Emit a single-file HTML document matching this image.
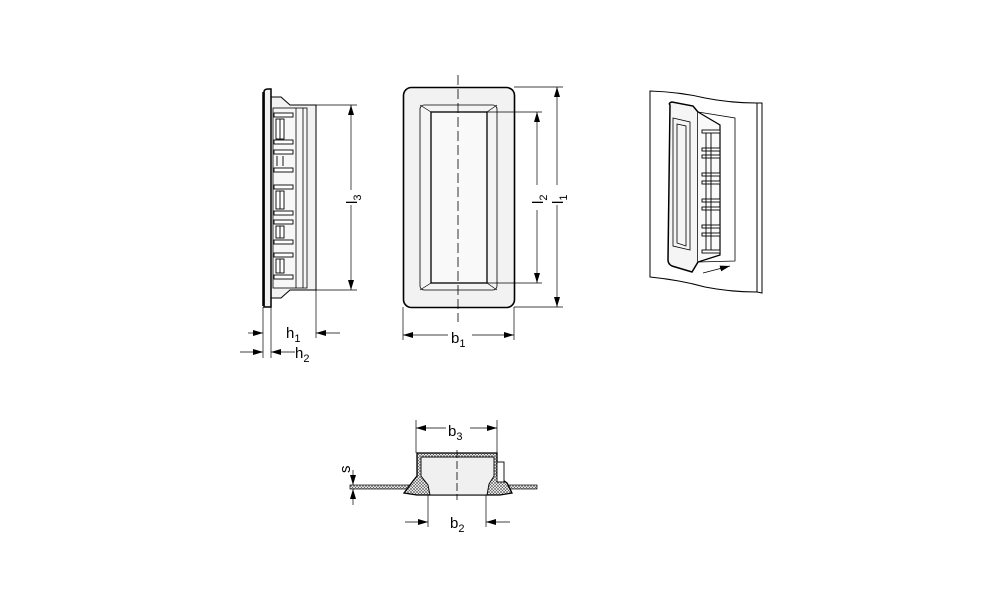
<!DOCTYPE html>
<html><head><meta charset="utf-8"><style>html,body{margin:0;padding:0;background:#fff}svg{display:block}</style></head>
<body>
<svg width="1000" height="611" viewBox="0 0 1000 611" xmlns="http://www.w3.org/2000/svg" font-family="Liberation Sans, sans-serif">
<defs>
<marker id="a" viewBox="0 0 10 6" refX="10" refY="3" markerWidth="10" markerHeight="6" orient="auto-start-reverse" markerUnits="userSpaceOnUse"><path d="M0,0 L10,3 L0,6 z" fill="#000"/></marker>
<pattern id="h" width="3" height="3" patternUnits="userSpaceOnUse"><rect width="3" height="3" fill="#fff"/><path d="M0,0L3,3M3,0L0,3" stroke="#555" stroke-width="0.6"/></pattern>
</defs>
<g stroke="#000" fill="none" stroke-width="1">
<!-- SIDE VIEW -->
<path d="M271,97 L281,97 L290,105 L316,105 L316,290 L290,290 L281,298 L271,298" fill="#f2f2f2"/>
<path d="M264,92 Q264,89 268,89 L271,89 L271,307 L264,307 Z" fill="#f2f2f2" stroke-width="1.5"/>
<line x1="263.5" y1="92" x2="263.5" y2="306" stroke-width="2.5"/>
<rect x="273" y="108" width="34" height="180" fill="#f7f7f7" stroke-width="0.8"/>
<line x1="296" y1="108" x2="296" y2="288" stroke-width="0.8"/>
<line x1="303" y1="108" x2="303" y2="288" stroke-width="0.8"/>
<g stroke-width="0.9" fill="#fff">
<rect x="274" y="113" width="19" height="4"/><rect x="276" y="119" width="8" height="20"/><line x1="280" y1="119" x2="280" y2="139"/><rect x="274" y="140" width="19" height="4"/>
<rect x="274" y="150" width="19" height="4"/><line x1="277" y1="156" x2="277" y2="166"/><line x1="283" y1="156" x2="283" y2="166"/><rect x="274" y="168" width="19" height="4"/>
<rect x="274" y="185" width="19" height="4"/><rect x="276" y="191" width="8" height="18"/><line x1="280" y1="191" x2="280" y2="209"/><rect x="274" y="211" width="19" height="4"/>
<rect x="274" y="220" width="19" height="4"/><rect x="276" y="226" width="8" height="12"/><line x1="280" y1="226" x2="280" y2="238"/><rect x="274" y="240" width="19" height="4"/>
<rect x="274" y="253" width="19" height="4"/><rect x="276" y="259" width="8" height="14"/><line x1="280" y1="259" x2="280" y2="273"/><rect x="274" y="275" width="19" height="4"/>
</g>
<!-- side dims -->
<g stroke-width="0.7">
<line x1="316" y1="105" x2="357" y2="105"/><line x1="316" y1="290" x2="357" y2="290"/>
<line x1="351" y1="190" x2="351" y2="105" marker-end="url(#a)"/><line x1="351" y1="205" x2="351" y2="290" marker-end="url(#a)"/>
<line x1="263" y1="307" x2="263" y2="358"/><line x1="271" y1="307" x2="271" y2="358"/><line x1="316" y1="290" x2="316" y2="338"/>
<line x1="248" y1="333" x2="263" y2="333" marker-end="url(#a)"/><line x1="340" y1="333" x2="316" y2="333" marker-end="url(#a)"/>
<line x1="240" y1="352" x2="263" y2="352" marker-end="url(#a)"/><line x1="295" y1="352" x2="271" y2="352" marker-end="url(#a)"/>
</g>
<!-- FRONT VIEW -->
<rect x="403.5" y="87.5" width="111" height="220" rx="8" fill="#f2f2f2" stroke-width="1.6"/>
<rect x="420" y="105" width="77" height="185" rx="4" fill="#f4f4f4" stroke-width="0.8"/>
<rect x="431" y="112" width="56" height="171" fill="#f9f9f9" stroke-width="1.3"/>
<path d="M420,105 L431,112 M497,105 L487,112 M420,290 L431,283 M497,290 L487,283" stroke-width="0.7"/>
<line x1="458" y1="75" x2="458" y2="322" stroke-width="0.8" stroke-dasharray="10,4"/>
<g stroke-width="0.7">
<line x1="514" y1="87" x2="563" y2="87"/><line x1="514" y1="307" x2="563" y2="307"/>
<line x1="557" y1="185" x2="557" y2="87" marker-end="url(#a)"/><line x1="557" y1="205" x2="557" y2="307" marker-end="url(#a)"/>
<line x1="487" y1="112" x2="542" y2="112"/><line x1="487" y1="283" x2="542" y2="283"/>
<line x1="537" y1="185" x2="537" y2="112" marker-end="url(#a)"/><line x1="537" y1="210" x2="537" y2="283" marker-end="url(#a)"/>
<line x1="403" y1="307" x2="403" y2="340"/><line x1="514" y1="307" x2="514" y2="340"/>
<line x1="448" y1="335" x2="403" y2="335" marker-end="url(#a)"/><line x1="472" y1="335" x2="514" y2="335" marker-end="url(#a)"/>
</g>
<!-- 3D VIEW -->
<path d="M650,91 Q680,92 705,98 Q730,103 757,103 L757,292 Q730,292 705,287 Q680,280 650,277 Z" fill="#fff" stroke-width="1"/>
<path d="M757,103 L762,103 L762,293 L757,292" stroke-width="1"/>
<path d="M698,112 L735,118 L735,261 L698,262" stroke-width="0.8"/>
<path d="M670,105 Q668,103 672,102 L693,106 L698,112 L698,262 L692,272 L672,266 Q668,264 668,260 Z" fill="#f5f5f5" stroke-width="1.5"/>
<path d="M673,118 L690,122 L690,250 L673,246 Z M677,124 L686,126 L686,246 L677,243 Z" stroke-width="0.8"/>
<path d="M698,112 L720,125 L720,255 L698,262" fill="#fafafa" stroke-width="1.2"/>
<g stroke-width="0.9" fill="#fff">
<rect x="702" y="130" width="18" height="3"/><rect x="702" y="148" width="18" height="3"/><rect x="702" y="155" width="18" height="3"/><rect x="702" y="173" width="18" height="3"/><rect x="702" y="181" width="18" height="3"/><rect x="702" y="199" width="18" height="3"/><rect x="702" y="207" width="18" height="3"/><rect x="702" y="225" width="18" height="3"/><rect x="702" y="233" width="18" height="3"/><rect x="702" y="250" width="18" height="3"/>
<line x1="706" y1="133" x2="706" y2="250"/><line x1="711" y1="133" x2="711" y2="250"/>
</g>
<line x1="703" y1="273" x2="730" y2="266" stroke-width="0.8" marker-end="url(#a)"/>
<!-- SECTION -->
<rect x="350" y="485" width="60" height="4" fill="url(#h)" stroke-width="0.7"/>
<rect x="505" y="485" width="32" height="4" fill="url(#h)" stroke-width="0.7"/>
<path d="M417,453 L497,453 L497,476 L507,483 L512,493 L500,495 L417,495 L404,493 L413,481 L417,476 Z" fill="url(#h)" stroke-width="1.3"/>
<path d="M421,457 L494,457 L494,476 L489,484 L487,495 L430,495 L428,485 L421,476 Z" fill="#f0f0f0" stroke-width="0.9"/>
<rect x="497" y="462" width="7" height="20" fill="#fff" stroke-width="0.9"/>
<line x1="457" y1="450" x2="457" y2="500" stroke-width="0.8" stroke-dasharray="8,3"/>
<g stroke-width="0.7">
<line x1="416" y1="420" x2="416" y2="453"/><line x1="497" y1="420" x2="497" y2="453"/>
<line x1="446" y1="428" x2="416" y2="428" marker-end="url(#a)"/><line x1="470" y1="428" x2="497" y2="428" marker-end="url(#a)"/>
<line x1="428" y1="495" x2="428" y2="527"/><line x1="486" y1="495" x2="486" y2="527"/>
<line x1="405" y1="522" x2="428" y2="522" marker-end="url(#a)"/><line x1="510" y1="522" x2="486" y2="522" marker-end="url(#a)"/>
<line x1="353" y1="470" x2="353" y2="485" marker-end="url(#a)"/><line x1="353" y1="505" x2="353" y2="489" marker-end="url(#a)"/>
</g>
</g>
<g font-size="15" fill="#000">
<text x="286" y="338">h<tspan font-size="11" dy="4">1</tspan></text>
<text x="295" y="358">h<tspan font-size="11" dy="4">2</tspan></text>
<text x="451" y="343">b<tspan font-size="11" dy="4">1</tspan></text>
<text x="448" y="436">b<tspan font-size="11" dy="4">3</tspan></text>
<text x="450" y="528">b<tspan font-size="11" dy="4">2</tspan></text>
<text transform="translate(357,204) rotate(-90)">l<tspan font-size="11" dy="4">3</tspan></text>
<text transform="translate(543,204) rotate(-90)">l<tspan font-size="11" dy="4">2</tspan></text>
<text transform="translate(563,204) rotate(-90)">l<tspan font-size="11" dy="4">1</tspan></text>
<text transform="translate(350,473) rotate(-90)">s</text>
</g>
</svg>
</body></html>
